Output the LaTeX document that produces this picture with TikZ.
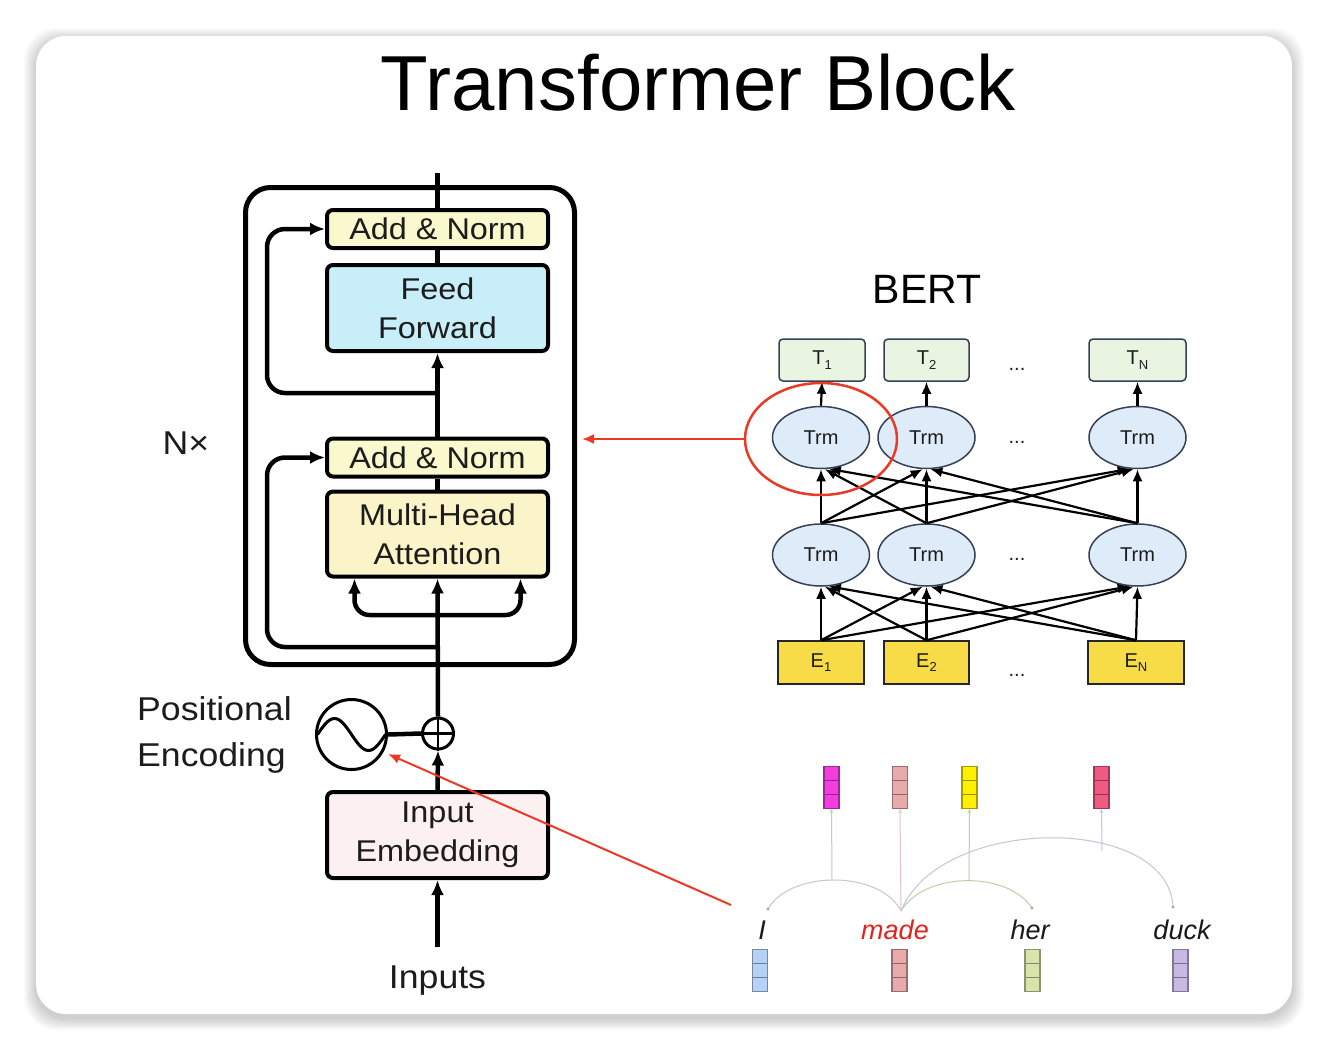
\documentclass[tikz,border=0pt]{standalone}
\usepackage{fontspec}
\setmainfont{Liberation Sans}
\newfontfamily\wfont[FakeStretch=1.08]{Liberation Sans}
\usetikzlibrary{arrows.meta,shapes.geometric,calc}
\definecolor{txt}{RGB}{28,28,28}
\definecolor{anfill}{RGB}{250,248,205}
\definecolor{fffill}{RGB}{200,238,250}
\definecolor{mhafill}{RGB}{250,244,200}
\definecolor{embfill}{RGB}{252,240,240}
\definecolor{redc}{RGB}{234,58,38}
\definecolor{madec}{RGB}{225,35,30}
\definecolor{tgreen}{RGB}{233,245,225}
\definecolor{trmfill}{RGB}{222,235,248}
\definecolor{trmdraw}{RGB}{55,65,85}
\definecolor{eyellow}{RGB}{247,220,72}
\definecolor{vmag}{RGB}{245,60,225}
\definecolor{vmade}{RGB}{232,170,170}
\definecolor{vyel}{RGB}{255,240,0}
\definecolor{vduck}{RGB}{240,90,130}
\definecolor{vI}{RGB}{180,210,245}
\definecolor{vher}{RGB}{215,228,170}
\definecolor{vduckb}{RGB}{200,185,228}
\definecolor{thinl}{RGB}{195,198,215}
\definecolor{thiny}{RGB}{238,236,195}
\definecolor{thinp}{RGB}{228,195,200}
\newcommand\bsub[1]{\raisebox{-0.45ex}{\fontsize{13}{13}\selectfont #1}}
\begin{document}
\begin{tikzpicture}[x=1pt,y=-1pt,
  blk/.style={draw=black, line width=4pt, rounded corners=6pt, minimum width=221pt, inner sep=0pt, align=center, text=txt, font=\wfont\fontsize{30}{39}\selectfont},
  main/.style={line width=4.5pt, draw=black},
  arr/.style={main, -{Latex[length=15pt,width=13pt]}},
  lbl/.style={text=txt, font=\wfont\fontsize{33}{46}\selectfont, inner sep=0pt},
  bfont/.style={text=txt, font=\fontsize{20}{23}\selectfont},
  tbox/.style={bfont, draw=trmdraw, fill=tgreen, line width=1.5pt, rounded corners=4pt, minimum height=42pt, inner sep=0pt},
  trm/.style={bfont, ellipse, draw=trmdraw, fill=trmfill, line width=1.5pt, minimum width=97pt, minimum height=62pt, inner sep=0pt},
  ebox/.style={bfont, draw=black!85, fill=eyellow, line width=1.5pt, minimum height=43pt, inner sep=0pt},
  barr/.style={line width=2.2pt, draw=black, -{Latex[length=12pt,width=10pt]}},
  vec/.style={draw=#1!65!black, fill=#1, line width=1.2pt, minimum width=15pt, minimum height=42pt, inner sep=0pt,
    path picture={
      \draw[#1!60!black, line width=1pt] ($(path picture bounding box.north west)!1/3!(path picture bounding box.south west)$) -- ($(path picture bounding box.north east)!1/3!(path picture bounding box.south east)$);
      \draw[#1!60!black, line width=1pt] ($(path picture bounding box.north west)!2/3!(path picture bounding box.south west)$) -- ($(path picture bounding box.north east)!2/3!(path picture bounding box.south east)$);
    }},
  word/.style={font=\fontsize{27}{30}\selectfont\itshape, text=black!90, anchor=base, inner sep=0pt},
  thin/.style={line width=1pt, -{Stealth[length=4pt,width=3.5pt]}}
]
\useasboundingbox (0,0) rectangle (1328,1050);
\fill[white] (0,0) rectangle (1328,1050);
% card shadow
\foreach \i in {1,...,12}
  \fill[black, opacity=0.014, rounded corners=32pt] (36-\i,36-\i+4) rectangle (1292+\i,1014+\i+4);
\fill[white, rounded corners=30pt] (36,36) rectangle (1292,1014);

% title
\node[font=\fontsize{78}{90}\selectfont, text=black, anchor=base, inner sep=0pt] (title) at (698,110) {Transformer Block};

% ---------------- Transformer block ----------------
\node[draw=black, line width=5pt, rounded corners=25pt, minimum width=329pt, minimum height=477pt, inner sep=0pt] (outer) at (410,426) {};
\node[blk, fill=anfill, minimum height=38pt] (an1) at (437.5,229) {Add \& Norm};
\node[blk, fill=fffill, minimum height=86pt] (ff) at (437.5,308) {Feed\\Forward};
\node[blk, fill=anfill, minimum height=38pt] (an2) at (437.5,457.5) {Add \& Norm};
\node[blk, fill=mhafill, minimum height=85pt] (mha) at (437.5,534) {Multi-Head\\Attention};
\node[blk, fill=embfill, minimum height=86pt] (emb) at (437.5,835) {Input\\Embedding};

\node[circle, draw=black, line width=3pt, minimum size=70pt, inner sep=0pt] (pe) at (351.5,734.5) {};
\draw[line width=3pt] plot[domain=-1:1, samples=40, smooth] ({351.5+34*\x},{734.5+16*sin(180*\x)});
\node[circle, draw=black, line width=3pt, fill=white, minimum size=31pt, inner sep=0pt] (plus) at (438,733.5) {};
\draw[line width=2.5pt] (plus.north) -- (plus.south) (plus.west) -- (plus.east);

\coordinate (topend) at (437.5,173);
\coordinate (r1) at (437.5,393);
\coordinate (l1) at (267,393);
\coordinate (r2) at (437.5,647);
\coordinate (l2) at (267,647);
\coordinate (br) at (437.5,615);
\coordinate (bl) at (354.5,615);
\coordinate (bri) at (520.5,615);
\coordinate (inp) at (437.5,947);

\draw[main] (topend) -- (an1.north);
\draw[main] (an1.south) -- (ff.north);
\draw[arr] (an2.north) -- (ff.south);
\draw[main] (mha.north) -- (an2.south);
\draw[arr] (plus.north) -- (mha.south);
\draw[arr, rounded corners=18pt] (r1) -- (l1) |- (an1.west);
\draw[arr, rounded corners=18pt] (r2) -- (l2) |- (an2.west);
\draw[arr, rounded corners=15pt] (br) -- (bl) -- ([xshift=-83pt]mha.south);
\draw[arr, rounded corners=15pt] (br) -- (bri) -- ([xshift=83pt]mha.south);
\draw[main] (pe.east) -- (plus.west);
\draw[arr] (emb.north) -- (plus.south);
\draw[arr] (inp) -- (emb.south);

\node[lbl, anchor=base] (inputs) at (437.5,988) {Inputs};
\node[lbl, anchor=center] (nx) at (186,443) {N×};
\node[lbl, anchor=base west] (pos1) at (137,720) {Positional};
\node[lbl, anchor=base west] (pos2) at (137,766) {Encoding};

% ---------------- BERT ----------------
\node[font=\fontsize{41}{46}\selectfont, text=black, inner sep=0pt] (bert) at (927,289) {BERT};

\node[tbox, minimum width=86pt] (t1) at (822,360) {T\bsub{1}};
\node[tbox, minimum width=85pt] (t2) at (926.5,360) {T\bsub{2}};
\node[tbox, minimum width=97pt] (tn) at (1137.5,360) {T\bsub{N}};
\node[bfont, anchor=base, inner sep=0pt] (dt) at (1017,370) {...};

\node[trm] (u1) at (821,437.5) {Trm};
\node[trm] (u2) at (926.5,437.5) {Trm};
\node[trm] (un) at (1137.5,437.5) {Trm};
\node[bfont, anchor=base, inner sep=0pt] (du) at (1017,443) {...};

\node[trm] (b1) at (821,555) {Trm};
\node[trm] (b2) at (926.5,555) {Trm};
\node[trm] (bn) at (1137.5,555) {Trm};
\node[bfont, anchor=base, inner sep=0pt] (db) at (1017,560) {...};

\node[ebox, minimum width=86pt] (e1) at (821,662.5) {E\bsub{1}};
\node[ebox, minimum width=85pt] (e2) at (926.5,662.5) {E\bsub{2}};
\node[ebox, minimum width=96pt] (en) at (1136,662.5) {E\bsub{N}};
\node[bfont, anchor=base, inner sep=0pt] (de) at (1017,676) {...};

\foreach \s in {1,2,n} \draw[barr] (u\s.north) -- (t\s.south);
\foreach \s/\si in {1/1,2/2,n/3} {
  \foreach \d/\di in {1/1,2/2,n/3} {
    \pgfmathtruncatemacro\ang{-90+7*(\si-\di)}
    \draw[barr] (b\s.north) -- (u\d.\ang);
    \draw[barr] (e\s.north) -- (b\d.\ang);
  }
}

% red highlight
\node[ellipse, draw=redc, line width=2.5pt, minimum width=152pt, minimum height=112pt, inner sep=0pt] (focus) at (821,439) {};
\coordinate (rtip1) at (582,439);
\draw[redc, line width=2pt, -{Latex[length=12pt,width=10pt]}] (focus.west) -- (rtip1);
\coordinate (rsrc2) at (731,905);
\coordinate (rtip2) at (388,754);
\draw[redc, line width=2pt, -{Latex[length=12pt,width=10pt]}] (rsrc2) -- (rtip2);

% ---------------- words ----------------
\node[vec=vmag] (vt1) at (831.5,787.5) {};
\node[vec=vmade] (vt2) at (900,787.5) {};
\node[vec=vyel] (vt3) at (969.5,787.5) {};
\node[vec=vduck] (vt4) at (1101.5,787.5) {};

\coordinate (dI) at (768,909);
\coordinate (dM) at (901,911);
\coordinate (dH) at (1032,908);
\coordinate (dD) at (1173,907);
\coordinate (pk1) at (832,880);
\coordinate (pk3) at (969,881);
\coordinate (pk4) at (1102,851);

\draw[thinl, line width=1pt] (dI) .. controls (790,870) and (880,870) .. (dM);
\draw[thiny!85!black, line width=1pt] (dM) .. controls (925,871) and (1008,871) .. (dH);
\draw[thinl, line width=1pt] (dM) .. controls (940,814) and (1169,814) .. (dD);
\foreach \p in {dI,dH,dD} \fill[black!35] (\p) circle (1.6pt);

\draw[thin, thinl] (pk1) -- (vt1.south);
\draw[thin, thinp] (dM) -- (vt2.south);
\draw[thin, thiny!85!black] (pk3) -- (vt3.south);
\draw[thin, thinl] (pk4) -- (vt4.south);

\node[word] (wI) at (762,939) {I};
\node[word, text=madec] (wM) at (895,939) {made};
\node[word] (wH) at (1030,939) {her};
\node[word] (wD) at (1182,939) {duck};

\node[vec=vI] (vb1) at (760,970.5) {};
\node[vec=vmade] (vb2) at (899.5,970.5) {};
\node[vec=vher] (vb3) at (1032.5,970.5) {};
\node[vec=vduckb] (vb4) at (1180.5,970.5) {};
\end{tikzpicture}
\end{document}
